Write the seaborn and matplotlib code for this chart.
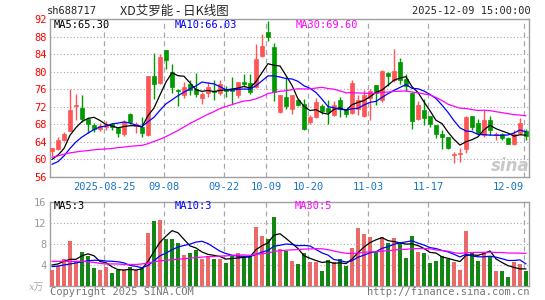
import numpy as np
import pandas as pd
import seaborn as sns
import matplotlib.pyplot as plt

# daily candles, 2025-08-12 .. 2025-12-09 (80 trading days)
opens = [62.0, 62.4, 64.4, 66.5, 72.1, 71.8, 69.3, 67.8, 67.0, 67.5,
         68.1, 67.2, 65.7, 70.4, 67.7, 67.5, 65.5, 79.1, 77.4, 85.0,
         80.0, 75.9, 74.6, 77.2, 76.1, 74.0, 75.1, 75.6, 75.1, 76.1,
         76.0, 74.6, 77.6, 77.4, 76.5, 83.6, 89.1, 85.7, 70.8, 74.3,
         71.5, 73.6, 72.7, 68.5, 69.7, 72.1, 71.8, 70.1, 73.5, 71.4,
         70.5, 71.4, 69.9, 73.9, 77.0, 73.5, 79.8, 78.0, 82.3, 78.3,
         75.1, 69.3, 71.2, 70.0, 67.8, 65.7, 65.0, 61.0, 61.3, 62.3,
         69.8, 68.3, 65.5, 69.1, 65.5, 65.7, 64.8, 63.5, 66.0, 66.5]
highs = [62.6, 65.1, 66.3, 76.1, 74.9, 74.6, 69.7, 68.3, 68.3, 68.7,
         68.2, 67.4, 68.9, 70.5, 68.5, 69.7, 79.1, 84.2, 84.0, 85.0,
         81.7, 76.0, 77.6, 78.0, 79.6, 75.3, 77.6, 78.0, 78.0, 76.8,
         78.7, 77.6, 79.5, 79.5, 86.3, 88.5, 91.5, 86.6, 74.6, 78.7,
         74.6, 74.0, 73.8, 70.2, 74.0, 72.7, 73.6, 73.3, 74.3, 71.6,
         78.0, 74.6, 75.8, 76.1, 77.0, 80.3, 79.9, 85.1, 83.2, 79.5,
         75.3, 73.4, 73.8, 70.0, 67.8, 66.6, 65.1, 61.7, 62.5, 69.8,
         69.8, 69.3, 71.2, 69.8, 66.3, 66.0, 65.1, 66.8, 69.5, 67.0]
lows = [60.7, 62.2, 64.2, 66.4, 68.9, 68.5, 66.0, 66.3, 66.4, 66.6,
        66.6, 65.0, 65.3, 68.0, 66.0, 65.0, 65.3, 73.8, 77.2, 80.6,
        75.1, 72.1, 74.0, 74.6, 74.3, 72.7, 74.3, 73.6, 74.6, 74.3,
        72.7, 74.0, 76.5, 75.0, 76.3, 83.4, 87.0, 73.4, 70.6, 71.5,
        70.3, 72.1, 66.6, 68.0, 69.5, 70.4, 68.0, 70.0, 69.7, 69.6,
        70.3, 70.1, 69.7, 69.0, 72.3, 73.1, 76.8, 77.6, 77.2, 75.7,
        67.0, 68.9, 67.8, 67.5, 64.8, 62.3, 62.3, 59.2, 59.5, 61.5,
        66.6, 65.9, 65.1, 65.5, 64.5, 64.5, 63.5, 63.3, 65.9, 64.5]
closes = [62.5, 64.4, 65.7, 71.2, 72.5, 69.3, 68.0, 67.0, 67.6, 67.9,
          67.5, 66.0, 68.5, 68.5, 68.0, 66.0, 78.9, 77.2, 83.4, 82.7,
          76.6, 75.5, 76.6, 75.8, 74.9, 74.8, 76.5, 75.3, 77.2, 75.5,
          75.7, 77.6, 77.2, 75.3, 82.9, 85.9, 87.8, 75.3, 74.6, 72.1,
          74.6, 72.3, 67.0, 69.7, 73.1, 71.0, 70.8, 72.4, 71.4, 70.3,
          77.4, 73.5, 74.6, 75.6, 75.2, 80.2, 79.1, 80.2, 78.0, 76.8,
          68.8, 72.5, 69.4, 68.0, 65.9, 65.1, 62.7, 61.2, 61.5, 69.7,
          67.4, 66.0, 69.1, 66.8, 65.7, 64.8, 63.6, 65.7, 68.3, 65.3]
volumes = [3.0, 3.9, 5.2, 8.5, 4.8, 6.4, 5.7, 3.4, 3.0, 3.7,
           2.5, 3.0, 3.0, 3.7, 3.0, 3.7, 10.1, 12.3, 12.5, 8.9,
           8.9, 8.1, 6.0, 6.3, 6.9, 5.1, 5.8, 5.1, 5.2, 4.4,
           5.7, 6.3, 5.7, 5.7, 11.2, 9.5, 9.0, 13.1, 7.0, 6.7,
           4.8, 4.1, 6.2, 4.6, 4.6, 2.9, 4.9, 4.6, 5.1, 3.8,
           7.2, 11.0, 10.0, 9.3, 6.5, 9.3, 8.1, 9.1, 8.1, 5.3,
           9.5, 6.5, 6.3, 4.4, 4.7, 5.8, 5.2, 4.6, 3.0, 10.5,
           6.3, 4.8, 6.3, 5.5, 2.9, 2.9, 1.8, 4.6, 4.1, 2.9]

# moving-average values before a full window is available
ma5_head = [60.0, 61.0, 62.5, 65.5]
ma10_head = [58.9, 59.5, 60.8, 62.5, 64.0, 65.1, 66.0, 66.8, 67.4]
ma30_head = [60.5, 60.8, 61.2, 61.5, 61.7, 61.9, 62.0, 62.2, 62.3, 62.4,
             62.5, 62.7, 62.8, 63.0, 63.1, 63.2, 63.6, 64.1, 64.6, 65.2,
             65.9, 66.6, 67.4, 68.2, 68.9, 69.6, 70.3, 70.9, 71.6]
vma5_head = [4.0, 4.2, 4.7, 5.1]
vma10_head = [3.7, 3.8, 4.0, 4.2, 4.4, 4.6, 4.8, 4.9, 4.9]
vma30_head = [4.7, 4.7, 4.7, 4.7, 4.7, 4.7, 4.6, 4.5, 4.3, 4.2,
              4.2, 4.2, 4.1, 4.1, 4.1, 4.2, 4.4, 4.6, 4.8, 4.9,
              5.0, 5.1, 5.2, 5.3, 5.4, 5.5, 5.6, 5.6, 5.7]

date_idx = [9, 19, 29, 36, 43, 53, 63, 79]
date_labels = ['2025-08-25', '09-08', '09-22', '10-09', '10-20', '11-03', '11-17', '12-09']

RED = '#ff5555'
GREEN = '#009900'
GRID = '#a8a8a8'
FRAME = '#a0a0a0'

df = pd.DataFrame({'open': opens, 'high': highs, 'low': lows,
                   'close': closes, 'vol': volumes})
df['i'] = np.arange(len(df))
df['up'] = df['close'] >= df['open']


def moving(s, n, head):
    m = s.rolling(n).mean()
    m.iloc[:n - 1] = head
    return m


df['ma5'] = moving(df['close'], 5, ma5_head)
df['ma10'] = moving(df['close'], 10, ma10_head)
df['ma30'] = moving(df['close'], 30, ma30_head)
df['vma5'] = moving(df['vol'], 5, vma5_head)
df['vma10'] = moving(df['vol'], 10, vma10_head)
df['vma30'] = moving(df['vol'], 30, vma30_head)

sns.set_style('white')
plt.rcParams['font.family'] = ['DejaVu Sans Mono', 'Noto Sans CJK SC']

W, H = 545, 300
fig = plt.figure(figsize=(W / 100, H / 100), dpi=100)
ax = fig.add_axes([50 / W, 1 - 177 / H, 479 / W, 158 / H])
axv = fig.add_axes([50 / W, 1 - 286 / H, 479 / W, 84 / H])


def ftext(x, y, s, **kw):
    fig.text(x / W, 1 - y / H, s, va='center', **kw)


# price panel
colors = np.where(df['up'], RED, GREEN)
ax.vlines(df['i'], df['low'], df['high'], colors=colors, lw=1, zorder=3)
body = (df['close'] - df['open']).abs().clip(lower=0.15)
ax.bar(df['i'], body, bottom=df[['open', 'close']].min(axis=1),
       width=0.75, color=colors, edgecolor=colors, linewidth=0.5, zorder=4)
sns.lineplot(data=df, x='i', y='ma5', ax=ax, color='black', lw=0.9, zorder=5)
sns.lineplot(data=df, x='i', y='ma10', ax=ax, color='#0000ff', lw=0.9, zorder=5)
sns.lineplot(data=df, x='i', y='ma30', ax=ax, color='#ff00ff', lw=0.9, zorder=5)

ax.set_ylim(56, 92)
ax.set_yticks(range(56, 93, 4))
ax.yaxis.grid(True, linestyle=(0, (1, 2)), color=GRID, lw=0.8)
ax.set_xticks([p - 0.33 for p in date_idx])
ax.set_xticklabels(date_labels)
ax.get_xticklabels()[-1].set_horizontalalignment('right')
ax.tick_params(axis='x', length=0, labelsize=7.5, labelcolor='#1a75c8', pad=3.5)
ax.tick_params(axis='y', length=0, labelsize=7.5, labelcolor='#ff0000', pad=2.5)

# volume panel
sns.barplot(data=df, x='i', y='vol', hue='up', palette={True: RED, False: GREEN},
            hue_order=[True, False], dodge=False, native_scale=True, width=0.8,
            legend=False, ax=axv, linewidth=0, zorder=3)
sns.lineplot(data=df, x='i', y='vma5', ax=axv, color='black', lw=0.9, zorder=5)
sns.lineplot(data=df, x='i', y='vma10', ax=axv, color='#0000ff', lw=0.9, zorder=5)
sns.lineplot(data=df, x='i', y='vma30', ax=axv, color='#ff00ff', lw=0.9, zorder=5)
axv.set_ylim(0, 16)
axv.set_yticks([4, 8, 12, 16])
axv.yaxis.grid(True, linestyle=(0, (1, 2)), color=GRID, lw=0.8)
axv.set_xticks([])
axv.tick_params(axis='y', length=0, labelsize=7.5, labelcolor='#999999', pad=2.5)

for a in (ax, axv):
    a.set_xlim(-0.33, 79.5)
    a.set_xlabel('')
    a.set_ylabel('')
    a.set_axisbelow(True)
    for p in date_idx:
        a.axvline(p - 0.33, color=GRID, ls=(0, (4, 3)), lw=0.9, zorder=1)
    for sp in a.spines.values():
        sp.set_color(FRAME)
        sp.set_linewidth(1)

# header and labels
ftext(47, 11, 'sh688717', fontsize=7.5)
ftext(120, 11, 'XD艾罗能 - 日K线图', fontsize=9, family=['Noto Sans CJK SC'])
ftext(531, 11, '2025-12-09 15:00:00', fontsize=7.5, ha='right')
ftext(54, 25, 'MA5:65.30', fontsize=7.5, color='black')
ftext(175, 25, 'MA10:66.03', fontsize=7.5, color='#0000ff')
ftext(296, 25, 'MA30:69.60', fontsize=7.5, color='#ff00ff')
ftext(54, 206, 'MA5:3', fontsize=7.5, color='black')
ftext(175, 206, 'MA10:3', fontsize=7.5, color='#0000ff')
ftext(295, 206, 'MA30:5', fontsize=7.5, color='#ff00ff')
ftext(44, 287, 'x万', fontsize=7, color='#aaaaaa', ha='right',
      family=['DejaVu Serif', 'Noto Sans CJK SC'], style='italic')
ftext(50, 292, 'Copyright 2025 SINA.COM', fontsize=7.5, color='#777777')
ftext(529, 292, 'http://finance.sina.com.cn', fontsize=7.5, color='#777777', ha='right')
ftext(510, 166, 'sina', fontsize=12, color='#c8c8c8', ha='center',
      family=['DejaVu Sans'], weight='bold', style='italic')

fig.savefig('out.png', dpi=100)
